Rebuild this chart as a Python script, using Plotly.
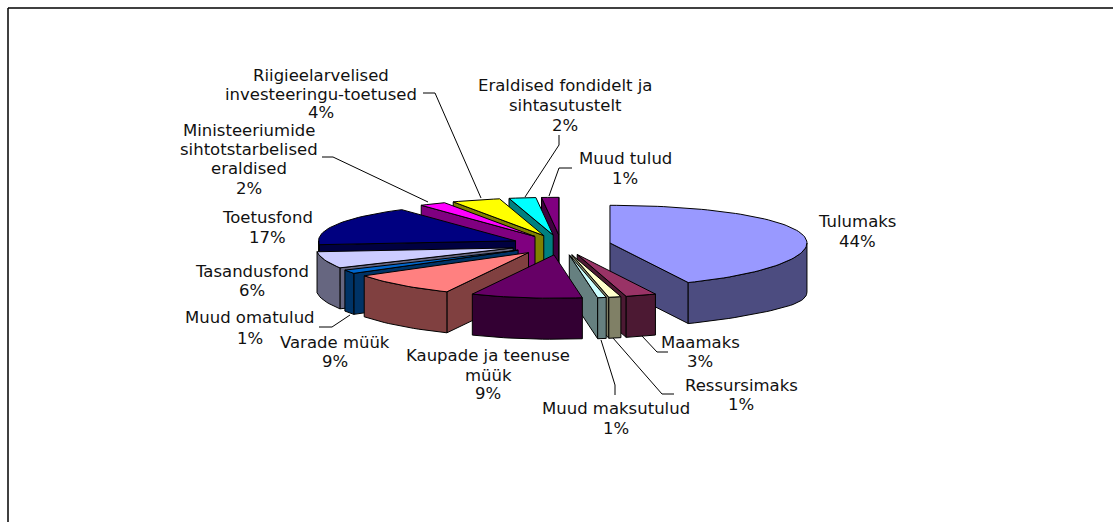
import math
import plotly.graph_objects as go

categories = ["Tulumaks", "Maamaks", "Ressursimaks", "Muud maksutulud", "Kaupade ja teenuse müük",
              "Varade müük", "Muud omatulud", "Tasandusfond", "Toetusfond",
              "Ministeeriumide sihtotstarbelised eraldised", "Riigieelarvelised investeeringu-toetused",
              "Eraldised fondidelt ja sihtasutustelt", "Muud tulud"]
values = [43.5, 2.5, 1.0, 0.7, 9.1, 8.9, 1.4, 6.4, 16.7, 2.2, 4.0, 2.2, 1.4]
top_colors = ["#9999FF", "#993366", "#FFFFCC", "#CCFFFF", "#660066", "#FF8080", "#0066CC",
              "#CCCCFF", "#000080", "#FF00FF", "#FFFF00", "#00FFFF", "#800080"]
side_colors = ["#4C4C80", "#4C1933", "#808066", "#668080", "#330033", "#804040", "#003366",
               "#666680", "#000040", "#800080", "#808000", "#008080", "#400040"]

# (text lines, centre x, y of each line)
labels = [
    (["Tulumaks", "44%"], 857, [221, 241]),
    (["Maamaks", "3%"], 700, [342, 361]),
    (["Ressursimaks", "1%"], 741, [385, 404]),
    (["Muud maksutulud", "1%"], 616, [408, 428]),
    (["Kaupade ja teenuse", "müük", "9%"], 488, [355, 375, 393]),
    (["Varade müük", "9%"], 335, [342, 361]),
    (["Muud omatulud", "1%"], 250, [317, 338]),
    (["Tasandusfond", "6%"], 252, [271, 290]),
    (["Toetusfond", "17%"], 267, [217, 237]),
    (["Ministeeriumide", "sihtotstarbelised", "eraldised", "2%"], 249, [130, 149, 168, 188]),
    (["Riigieelarvelised", "investeeringu-toetused", "4%"], 321, [75, 94, 112]),
    (["Eraldised fondidelt ja", "sihtasutustelt", "2%"], 565, [85, 105, 125]),
    (["Muud tulud", "1%"], 625, [158, 178]),
]
leaders = [
    [(423, 93), (435, 93), (481, 198)],
    [(322, 157), (333, 157), (428, 202)],
    [(559, 135), (559, 145), (525, 197)],
    [(572, 168), (559, 168), (549, 196)],
    [(642, 336), (657, 352), (668, 352)],
    [(613, 338), (662, 394), (674, 394)],
    [(601, 340), (615, 385), (615, 395)],
    [(350, 315), (332, 327), (319, 327)],
]

CX, CY, RX, RY, PERSP, DEPTH, EX, EY = 561, 245, 197, 40.5, 0.07, 41, 50, 10


def point(apex, deg):
    t = math.radians(deg)
    c = math.cos(t)
    return (apex[0] + RX * math.sin(t), apex[1] - RY * c * (1 - PERSP * c))


def arc(apex, t0, t1):
    n = max(2, int(abs(t1 - t0) / 2) + 2)
    return [point(apex, t0 + (t1 - t0) * i / (n - 1)) for i in range(n)]


def wall(apex, t0, t1):
    # outer wall between two angles; the wall reads taller towards the right-hand extreme
    n = max(2, int(abs(t1 - t0) / 2) + 2)
    ts = [t0 + (t1 - t0) * i / (n - 1) for i in range(n)]
    top = [point(apex, t) for t in ts]
    bottom = []
    for t, (x, y) in zip(ts, top):
        extra = 8 * max(0.0, math.sin(math.radians(t))) ** 6
        bottom.append((x, y + DEPTH + extra))
    return top + bottom[::-1]


fig = go.Figure()


def poly(pts, color):
    xs = [p[0] for p in pts] + [pts[0][0]]
    ys = [p[1] for p in pts] + [pts[0][1]]
    fig.add_trace(go.Scatter(x=xs, y=ys, mode="lines", fill="toself", fillcolor=color,
                             line=dict(color="#000000", width=1), hoverinfo="skip", showlegend=False))


total = sum(values)
wedges = []
acc = 0
for v, tc, sc in zip(values, top_colors, side_colors):
    t0 = acc / total * 360
    acc += v
    t1 = acc / total * 360
    wedges.append((t0, t1, tc, sc))
wedges.sort(key=lambda w: -math.cos(math.radians((w[0] + w[1]) / 2)))

for t0, t1, tc, sc in wedges:
    mid = math.radians((t0 + t1) / 2)
    apex = (CX + EX * math.sin(mid), CY - EY * math.cos(mid))
    # radial faces
    for t, vis in ((t0, math.sin(math.radians(t0)) < 0), (t1, math.sin(math.radians(t1)) > 0)):
        if vis:
            edge = [apex, point(apex, t)]
            poly(edge + [(x, y + DEPTH) for x, y in edge][::-1], sc)
    # outer wall
    w0, w1 = max(t0, 90), min(t1, 270)
    if w1 > w0:
        poly(wall(apex, w0, w1), sc)
    # top
    poly([apex] + arc(apex, t0, t1), tc)

shapes = [
    dict(type="line", x0=8, y0=8, x1=1113, y1=8, line=dict(color="#000000", width=1.5)),
    dict(type="line", x0=8, y0=8, x1=8, y1=522, line=dict(color="#000000", width=1.5)),
]
for pts in leaders:
    path = "M" + " L".join(f"{x},{y}" for x, y in pts)
    shapes.append(dict(type="path", path=path, line=dict(color="#000000", width=1)))

annotations = []
for lines, x, ys in labels:
    for line, y in zip(lines, ys):
        annotations.append(dict(x=x, y=y, text=line, showarrow=False, xanchor="center", yanchor="middle",
                                font=dict(family="DejaVu Sans", size=16.5, color="#111111")))

fig.update_layout(
    width=1113, height=522, margin=dict(l=0, r=0, t=0, b=0),
    paper_bgcolor="#FFFFFF", plot_bgcolor="#FFFFFF", showlegend=False,
    xaxis=dict(range=[0, 1113], visible=False, fixedrange=True),
    yaxis=dict(range=[522, 0], visible=False, fixedrange=True),
    shapes=shapes, annotations=annotations,
)
fig.write_html("out.html", config=dict(displayModeBar=False), default_height=522, default_width=1113,
               post_script="document.body.style.margin='0';document.documentElement.style.overflow='hidden';")
